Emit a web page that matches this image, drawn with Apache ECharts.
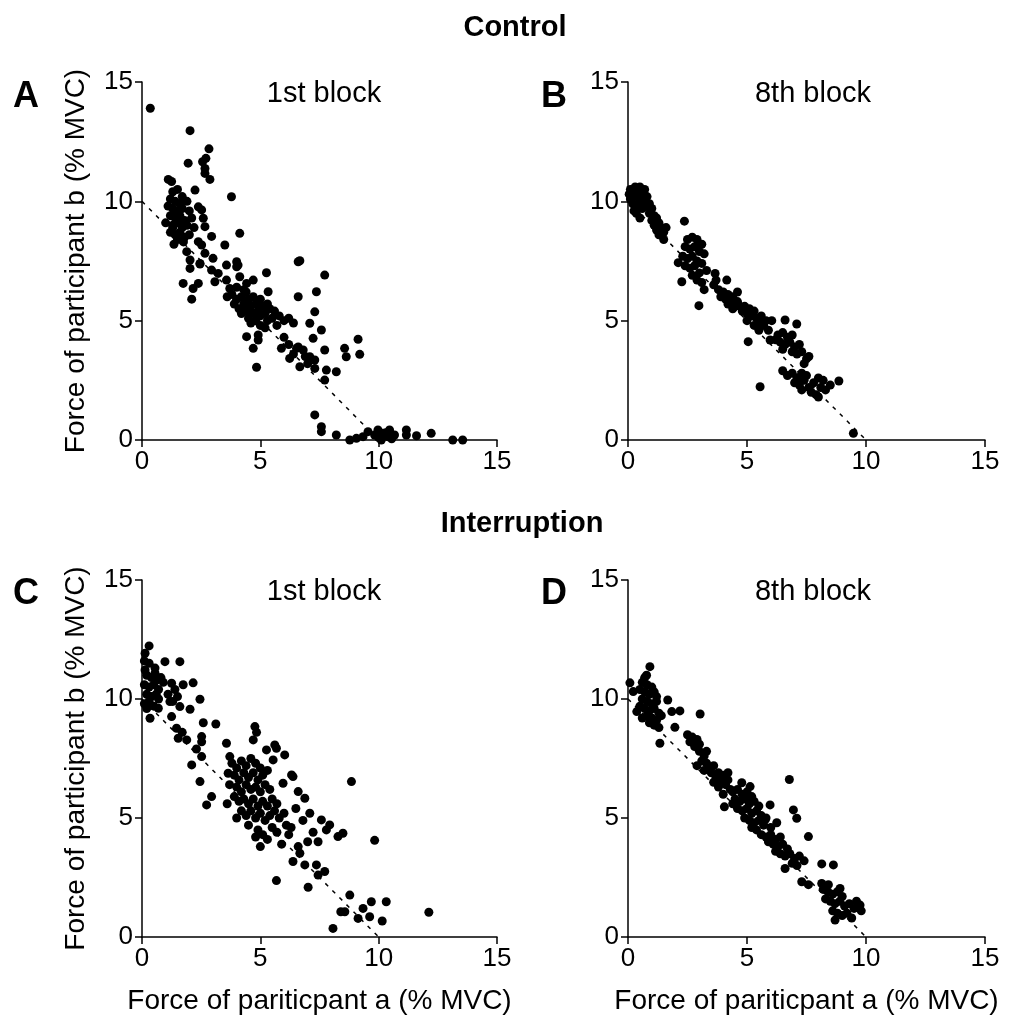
<!DOCTYPE html>
<html><head><meta charset="utf-8">
<script src="https://cdn.jsdelivr.net/npm/echarts@6/dist/echarts.min.js"></script>
<style>html,body{margin:0;padding:0;background:#fff}#c{width:1020px;height:1032px}</style>
</head><body><div id="c"></div>
<script>
const axisTicks = [0, 5, 10, 15];
const fitLine = [[0, 10], [10, 0]];
const groupTitles = ['Control', 'Interruption'];
const panelLetters = ['A', 'B', 'C', 'D'];
const blockTitles = ['1st block', '8th block', '1st block', '8th block'];
const yAxisTitle = 'Force of participant b (% MVC)';
const xAxisTitle = 'Force of pariticpant a (% MVC)';

const controlBlock1 = [
[0.35,13.9],[2.03,12.96],[2.83,12.2],[2.7,11.8],[1.95,11.6],[2.56,11.66],[2.66,11.38],[2.66,11.17],[2.87,10.92],[1.11,10.92],[1.25,10.83],[2.24,10.47],[3.78,10.19],
[1.3,10.4],[1.5,10.5],[1.7,10.2],[1.2,10.1],[1.4,10.0],[1.6,9.9],[1.9,10.0],[1.1,9.8],[1.3,9.7],[1.5,9.6],[1.7,9.7],[2.0,9.6],[1.2,9.4],[1.4,9.3],[1.6,9.4],[1.8,9.2],[2.1,9.3],[1.0,9.1],[1.3,9.0],[1.5,9.1],[1.7,8.9],[1.9,9.0],[2.2,8.9],[1.2,8.7],[1.4,8.6],[1.6,8.7],[1.8,8.5],[2.0,8.6],[1.5,8.4],[1.3,8.9],[1.45,9.55],[1.65,9.25],[1.35,8.2],[1.75,8.3],
[2.38,9.77],[2.52,9.64],[2.59,9.29],[2.66,8.94],[4.13,8.66],[2.94,8.53],[2.38,8.31],[2.52,8.17],[3.5,8.17],[1.89,7.89],[2.66,7.82],[2.03,7.54],[3.0,7.61],[2.45,7.4],[4.0,7.47],[6.67,7.51],[3.57,7.33],[4.06,7.33],
[1.74,6.56],[2.1,5.9],[2.38,6.56],[2.16,6.35],[2.03,7.19],[2.45,7.37],[2.94,7.12],[3.22,6.98],[3.08,6.63],[3.57,6.7],[3.71,6.35],[4.0,7.26],[4.13,6.84],[4.42,6.56],[4.7,6.7],
[3.8,6.1],[4.0,5.9],[4.2,6.0],[4.4,6.2],[3.9,5.7],[4.1,5.5],[4.3,5.7],[4.5,5.9],[4.7,6.0],[4.2,5.3],[4.4,5.4],[4.6,5.6],[4.8,5.7],[5.0,5.9],[4.5,5.1],[4.7,5.3],[4.9,5.4],[5.1,5.6],[5.3,5.7],[4.6,4.9],[4.8,5.0],[5.0,5.2],[5.2,5.3],[5.4,5.5],[5.6,5.4],[5.0,4.8],[5.3,5.0],[5.5,5.1],[5.8,5.2],[6.0,5.0],[6.2,5.1],[5.7,4.8],[6.4,4.9],[4.0,6.4],[4.3,6.3],[3.6,6.0],[5.2,4.7],
[5.26,7.01],[6.6,7.47],[7.72,6.91],[7.37,6.21],[6.6,6.0],[5.33,6.21],[7.3,5.37],[7.09,4.89],[7.58,4.61],[7.23,4.26],[4.42,4.33],[4.91,4.4],[4.91,4.19],[4.7,3.84],[4.84,3.05],[5.89,3.84],[6.24,3.42],[6.53,3.84],[6.81,3.77],[6.67,3.07],[7.09,3.49],[7.3,3.35],[7.3,3.0],[7.72,3.77],[7.79,2.93],[8.21,2.86],[7.72,2.51],[8.56,3.84],[8.63,3.49],[9.13,4.22],[9.2,3.59],
[6.0,4.3],[6.2,4.0],[6.4,3.6],[6.9,3.5],[7.0,3.2],[6.6,3.9],
[7.3,1.05],[7.58,0.56],[7.58,0.35],[8.21,0.21],[8.78,0.0],[9.06,0.07],[9.34,0.14],[9.55,0.35],[9.97,0.42],[10.18,0.28],[10.39,0.14],[10.46,0.42],[10.67,0.21],[11.17,0.42],[11.17,0.21],[11.6,0.18],[12.22,0.28],[13.13,0.0],[13.55,0.0],[10.11,0.0],[9.83,0.21],[10.0,0.1],[10.3,0.3],[10.55,0.05]
];

const controlBlock8 = [
[0.1,10.5],[0.3,10.6],[0.5,10.6],[0.7,10.5],[0.2,10.3],[0.4,10.4],[0.6,10.3],[0.8,10.2],[0.1,10.1],[0.3,10.2],[0.5,10.0],[0.7,10.0],[0.2,9.9],[0.4,9.8],[0.6,9.7],[0.35,9.5],[0.5,9.3],[0.25,9.6],[0.05,10.3],
[0.8,9.8],[1.0,9.7],[0.9,9.5],[1.1,9.4],[1.0,9.2],[1.2,9.3],[1.3,9.1],[1.1,9.0],[1.4,8.9],[1.2,8.8],[1.5,8.7],[1.3,8.6],[1.5,8.4],[1.6,8.9],[0.9,9.9],
[2.37,9.17],
[2.5,8.4],[2.7,8.5],[2.9,8.4],[3.1,8.2],[2.4,8.1],[2.6,8.0],[2.8,8.1],[3.0,7.9],[3.2,7.8],[2.3,7.7],[2.5,7.6],[2.7,7.7],[2.9,7.5],[3.1,7.4],[2.4,7.3],[2.6,7.2],[2.8,7.3],[3.0,7.0],[3.3,7.1],[2.7,6.9],[2.9,6.7],[3.1,6.6],[3.2,6.3],[2.11,7.43],[2.26,6.63],[2.98,5.63],
[3.66,6.98],[4.15,6.7],
[3.6,6.5],[3.8,6.3],[4.0,6.2],[4.2,6.1],[3.9,6.0],[4.1,5.9],[4.3,5.9],[4.4,6.0],[4.5,5.7],[4.6,5.8],[4.7,5.6],[4.4,5.5],[4.8,5.4],[4.9,5.6],[5.0,5.3],[5.1,5.5],[5.2,5.2],[5.3,5.4],[5.0,5.0],[5.4,5.1],[5.5,4.9],[5.6,5.2],[5.3,4.8],[5.7,4.8],[5.8,5.0],[5.5,4.6],[4.6,6.2],[4.2,5.7],[3.7,6.7],[5.9,4.6],
[6.04,5.0],[6.6,5.03],[7.09,4.86],[5.05,4.12],[5.97,4.19],
[6.3,4.4],[6.5,4.5],[6.7,4.3],[6.9,4.4],[6.4,4.1],[6.6,4.0],[6.8,4.1],[7.0,3.9],[7.2,4.0],[6.5,3.8],[6.9,3.7],[7.1,3.6],[7.3,3.7],[7.5,3.4],[7.4,3.2],[6.2,4.2],[7.6,3.5],
[5.55,2.23],
[6.5,2.9],[6.7,2.7],[6.9,2.8],[7.1,2.6],[7.3,2.8],[7.5,2.7],[7.0,2.4],[7.2,2.3],[7.4,2.5],[7.6,2.2],[7.8,2.4],[8.0,2.6],[7.7,2.0],[7.9,1.9],[8.1,2.2],[8.3,2.1],[8.0,1.8],[8.86,2.47],[8.5,2.3],[7.3,2.1],[8.2,2.5],
[9.47,0.28]
];

const interruptBlock1 = [
[0.3,12.23],[0.13,11.92],[0.97,11.57],[1.6,11.57],[0.13,11.22],[0.55,11.3],[0.55,11.08],
[0.1,11.6],[0.3,11.5],[0.2,11.0],[0.4,10.9],[0.6,10.8],[0.8,10.9],[0.1,10.6],[0.3,10.5],[0.5,10.6],[0.7,10.4],[0.2,10.2],[0.4,10.1],[0.6,10.2],[0.9,10.7],[0.1,9.8],[0.3,9.9],[0.5,9.7],[0.2,9.6],[0.7,10.0],
[1.25,10.66],[1.39,10.4],[1.74,10.6],[2.16,10.68],[2.45,9.99],[1.18,9.89],[1.6,9.68],[1.25,9.26],[0.69,9.61],[0.34,9.19],[2.03,9.57],[2.59,9.0],[3.12,8.95],[1.46,8.77],[1.53,8.35],[1.89,8.28],[2.52,8.42],[2.52,8.2],[3.57,8.14],[2.52,7.58],[2.1,7.23],[2.45,6.53],[2.94,5.9],[2.73,5.55],[4.77,8.84],[4.84,8.6],[4.7,8.28],[3.71,7.58],[3.64,6.88],[5.26,7.86],[5.61,8.07],[5.68,7.93],[6.03,7.65],[5.54,7.44],[6.38,6.74],[5.96,6.46],
[1.1,10.2],[1.3,9.9],[1.5,10.1],[1.7,8.6],[2.3,7.9],
[3.8,7.3],[4.0,7.1],[4.2,7.4],[4.4,7.2],[4.6,7.5],[4.8,7.3],[5.0,7.1],[3.9,6.8],[4.1,6.6],[4.3,6.9],[4.5,6.7],[4.7,6.9],[4.9,6.6],[5.1,6.8],[5.3,7.0],[3.7,6.4],[4.0,6.3],[4.2,6.1],[4.4,6.4],[4.6,6.2],[4.8,6.3],[5.0,6.1],[5.2,6.4],[5.4,6.2],[3.9,5.9],[4.1,5.7],[4.3,5.8],[4.5,5.6],[4.7,5.8],[4.9,5.5],[5.1,5.7],[5.3,5.5],[5.5,5.8],[5.7,5.6],[4.2,5.3],[4.4,5.1],[4.6,5.3],[4.8,5.0],[5.0,5.2],[5.2,4.9],[5.4,5.1],[5.6,5.3],[5.8,5.0],[6.0,5.2],[4.5,4.7],[4.9,4.5],[5.1,4.3],[5.5,4.6],[5.7,4.4],[6.1,4.7],[5.3,4.1],[5.9,3.9],[4.0,5.0],[3.6,5.6],[4.8,4.2],[6.2,4.3],[5.0,3.8],
[6.32,6.81],[8.85,6.53],[6.6,6.11],[6.88,5.83],[7.09,5.2],[7.58,4.92],[7.93,4.71],[7.79,4.5],[8.49,4.36],[8.28,4.22],[7.44,4.0],[9.83,4.06],[7.23,4.4],[6.67,3.52],[6.38,3.17],[6.88,3.03],[7.37,3.03],[7.72,2.75],[7.44,2.6],[5.68,2.37],[7.02,2.09],[8.78,1.76],[8.57,1.06],[8.4,1.06],[9.34,1.2],[9.69,1.48],[10.32,1.48],[9.62,0.85],[9.13,0.78],[10.15,0.67],[8.07,0.36],[12.12,1.04],
[6.5,5.4],[6.8,4.9],[6.3,4.6],[7.0,4.0],[6.6,3.8]
];

const interruptBlock8 = [
[0.92,11.36],[0.78,11.0],[0.08,10.68],[0.22,10.31],
[0.6,10.7],[0.8,10.6],[1.0,10.5],[0.5,10.4],[0.7,10.3],[0.9,10.2],[1.1,10.3],[0.6,10.0],[0.8,9.9],[1.0,9.8],[1.2,9.9],[0.5,9.7],[0.7,9.6],[0.9,9.5],[1.1,9.6],[1.3,9.4],[0.8,9.3],[1.0,9.2],[1.2,9.1],[1.4,9.3],[0.9,9.0],[1.1,8.9],[1.3,8.8],[0.6,9.2],[1.2,10.1],[0.7,10.9],
[1.67,9.96],[1.84,9.47],[2.18,9.5],[3.03,9.37],[1.97,8.81],[0.37,9.47],[1.34,8.14],
[2.5,8.5],[2.7,8.4],[2.9,8.3],[2.6,8.2],[2.8,8.0],[3.0,8.1],[3.0,7.8],[3.2,7.6],[3.1,7.4],[3.3,7.3],[3.4,7.1],[3.2,7.0],[3.5,6.9],[3.6,7.2],[3.7,6.7],[3.8,6.9],[3.9,6.6],[4.0,6.8],[3.6,6.5],[4.1,6.4],[4.2,6.6],[3.8,6.3],[4.3,6.2],[4.0,6.0],[2.9,7.2],[3.3,7.8],[4.2,6.9],
[4.78,6.48],[5.13,6.32],[6.78,6.62],[4.05,5.47],
[4.4,6.1],[4.6,6.2],[4.8,6.0],[5.0,6.1],[5.2,5.9],[4.5,5.8],[4.7,5.7],[4.9,5.8],[5.1,5.6],[5.3,5.7],[5.5,5.5],[4.6,5.4],[4.8,5.3],[5.0,5.4],[5.2,5.2],[5.4,5.3],[5.6,5.1],[4.9,5.0],[5.1,4.9],[5.3,4.8],[5.5,4.9],[5.7,4.7],[5.2,4.6],[5.8,5.0],[6.0,4.6],[5.4,4.5],[4.4,5.6],
[5.97,5.55],[6.25,4.8],[6.95,5.34],[7.09,4.99],[5.76,4.92],
[5.6,4.3],[5.8,4.2],[6.0,4.3],[6.2,4.1],[6.4,4.2],[5.9,4.0],[6.1,3.9],[6.3,3.8],[6.5,3.9],[6.7,3.7],[6.2,3.6],[6.4,3.5],[6.6,3.4],[6.8,3.5],[7.0,3.3],[7.2,3.4],[6.9,3.1],[7.1,3.0],[7.4,3.2],[7.58,4.22],[6.6,2.88],
[8.14,3.07],[8.63,3.03],[7.3,2.32],[7.58,2.2],[8.14,2.25],[8.42,2.2],[8.91,2.04],
[8.2,2.0],[8.4,1.9],[8.6,1.8],[8.8,1.9],[9.0,1.7],[8.3,1.6],[8.5,1.5],[8.7,1.4],[8.9,1.5],[9.1,1.3],[9.3,1.4],[9.5,1.2],[8.6,1.1],[8.8,1.0],[9.0,0.9],[9.2,1.0],[9.4,0.8],[9.75,1.34],[8.7,0.71],[9.6,1.5],[9.8,1.1]
];

const panelData = [controlBlock1, controlBlock8, interruptBlock1, interruptBlock8];
const FONT = '"Liberation Sans", Arial, Helvetica, sans-serif';
const grids = [
  {left: 142, top: 82, width: 355, height: 358},
  {left: 628, top: 82, width: 357, height: 358},
  {left: 142, top: 580, width: 355, height: 357},
  {left: 628, top: 580, width: 357, height: 357}
];
const lineStyleAxis = {color: '#000', width: 1.5};
function axisBase(i) {
  return {
    type: 'value', gridIndex: i,
    min: axisTicks[0], max: axisTicks[axisTicks.length - 1], interval: axisTicks[1] - axisTicks[0],
    axisLine: {show: true, onZero: false, lineStyle: lineStyleAxis},
    axisTick: {show: true, inside: false, length: 7, lineStyle: lineStyleAxis},
    axisLabel: {color: '#000', fontSize: 26, fontFamily: FONT, margin: 9},
    splitLine: {show: false},
    nameTextStyle: {color: '#000', fontSize: 28, fontFamily: FONT}
  };
}
const xAxes = grids.map((g, i) => Object.assign(axisBase(i), i >= 2 ? {name: xAxisTitle, nameLocation: 'middle', nameGap: 50} : {}));
const yAxes = grids.map((g, i) => Object.assign(axisBase(i), (i % 2 === 0) ? {name: yAxisTitle, nameLocation: 'middle', nameGap: 52} : {}));

const series = [];
panelData.forEach((d, i) => {
  series.push({type: 'line', xAxisIndex: i, yAxisIndex: i, data: fitLine, symbol: 'none', silent: true,
    lineStyle: {color: '#000', width: 1.5, type: [4, 6]}, z: 1});
  series.push({type: 'scatter', xAxisIndex: i, yAxisIndex: i, data: d, symbol: 'circle', symbolSize: 9,
    itemStyle: {color: '#000', opacity: 1}, z: 2});
});

const titles = [
  {text: groupTitles[0], left: 510, top: 8, textAlign: 'center', textStyle: {fontSize: 29, fontWeight: 'bold', fontFamily: FONT, color: '#000'}},
  {text: groupTitles[1], left: 517, top: 504, textAlign: 'center', textStyle: {fontSize: 29, fontWeight: 'bold', fontFamily: FONT, color: '#000'}},
];
const letterPos = [[8, 74], [536, 74], [8, 571], [536, 571]];
const blockPos = [[319, 74], [808, 74], [319, 572], [808, 572]];
panelLetters.forEach((t, i) => titles.push({text: t, left: letterPos[i][0], top: letterPos[i][1],
  textStyle: {fontSize: 36, fontWeight: 'bold', fontFamily: FONT, color: '#000'}}));
blockTitles.forEach((t, i) => titles.push({text: t, left: blockPos[i][0], top: blockPos[i][1], textAlign: 'center',
  textStyle: {fontSize: 29, fontWeight: 'normal', fontFamily: FONT, color: '#000'}}));

const chart = echarts.init(document.getElementById('c'), null, {renderer: 'canvas'});
chart.setOption({
  animation: false,
  backgroundColor: '#fff',
  title: titles,
  grid: grids,
  xAxis: xAxes,
  yAxis: yAxes,
  series: series
});
</script></body></html>
